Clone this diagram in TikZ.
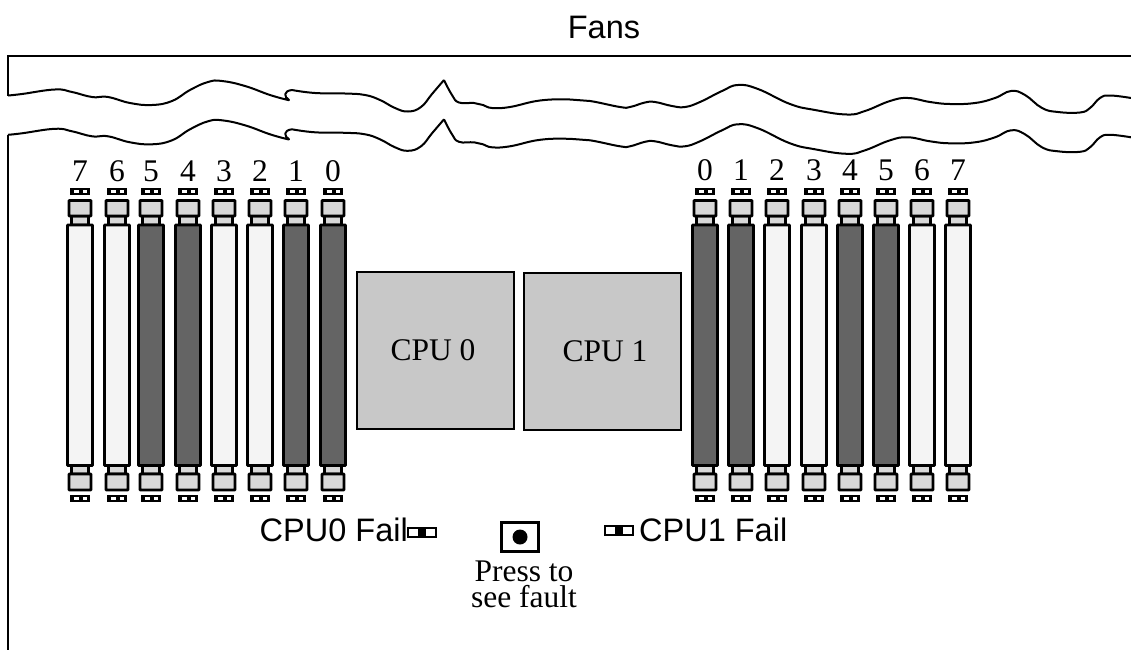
\documentclass[tikz,border=0pt]{standalone}
\usepackage{fontspec}
\setmainfont{Liberation Serif}
\newfontfamily\arialf{Liberation Sans}
\definecolor{dimmdark}{HTML}{646464}
\definecolor{dimmlight}{HTML}{F4F4F4}
\definecolor{blockgray}{HTML}{D8D8D8}
\definecolor{cpugray}{HTML}{C8C8C8}
\newcommand{\serifsz}{\fontsize{31.5}{26}\selectfont}
\newcommand{\sanssz}{\arialf\fontsize{32.5}{32.5}\selectfont}
\newcommand{\wavepath}{%
  plot[smooth,tension=0.75] coordinates {(8,95.5) (22,94) (55,89.5) (72,92) (92,97) (108,97) (130,103) (152,105) (172,101) (190,90) (208,82) (222,81) (245,86) (270,95) (288,100)}
  -- (289,100) .. controls (284,97) and (283,91) .. (292,90)
  plot[smooth,tension=0.75] coordinates {(292,90) (315,93) (345,93.5) (365,95) (380,100) (395,108) (408,111.5) (421,107) (432,94) (444,80)}
  plot[smooth,tension=0.75] coordinates {(444,80) (452,95) (459,102.5) (474,103) (483,105) (492,108) (510,107) (540,100.5) (570,99.5) (590,101) (620,107) (630,107) (645,102.5) (655,102) (672,106) (685,107) (700,102) (722,91) (738,85) (758,89) (790,104) (815,110) (847,114.5) (865,111) (890,101) (908,98) (930,102) (950,104) (975,103) (995,98) (1011,91) (1025,95) (1042,108) (1058,112) (1080,112.5) (1090,108) (1100,98) (1110,95.5) (1131,98)}}
\tikzset{
  outline/.style={draw=black,line width=2.2pt},
  wave/.style={draw=black,line width=2pt,line join=round},
  slotbody/.style={draw=black,line width=2.6pt,rounded corners=0.5pt},
  num/.style={inner sep=0pt,font=\serifsz},
  lbl/.style={inner sep=0pt,font=\sanssz},
  serlbl/.style={inner sep=0pt,font=\serifsz,align=center}
}
\newcommand{\led}[2]{%
  \fill[black] (#1-10,#2-3.8) rectangle (#1+10,#2+3.8);
  \fill[white] (#1-6.5,#2-1.8) rectangle (#1-1.5,#2+1.8);
  \fill[white] (#1+2.5,#2-1.8) rectangle (#1+7,#2+1.8);
}
\newcommand{\dimm}[2]{%
  \led{#1}{191.5}
  \draw[slotbody,fill=blockgray] (#1-8.5,216) rectangle (#1+8.5,225);
  \draw[slotbody,fill=blockgray] (#1-11,200.5) rectangle (#1+11,216);
  \draw[slotbody,fill=#2] (#1-12.5,225) rectangle (#1+12.5,465.5);
  \draw[slotbody,fill=blockgray] (#1-8.5,465.5) rectangle (#1+8.5,474);
  \draw[slotbody,fill=blockgray] (#1-11,474) rectangle (#1+11,490);
  \led{#1}{498.5}
}
\begin{document}
\begin{tikzpicture}[x=1pt,y=-1pt]
\useasboundingbox (0,0) rectangle (1131,664);
% chassis
\draw[outline,line join=miter] (1131,56) -- (8,56) -- (8,95.5);
\draw[outline] (8,135) -- (8,650);
\draw[wave] \wavepath;
\begin{scope}[yshift=-39.3pt]
\draw[wave] \wavepath;
\end{scope}
\node[lbl] (fans) at (604,27) {Fans};
% left bank
\foreach \x/\n/\c in {80/7/dimmlight,117/6/dimmlight,151/5/dimmdark,188/4/dimmdark,224/3/dimmlight,260/2/dimmlight,296/1/dimmdark,333/0/dimmdark}{
  \dimm{\x}{\c}
  \node[num] (l\n) at (\x,171) {\n};
}
% right bank
\foreach \x/\n/\c in {705/0/dimmdark,741/1/dimmdark,777/2/dimmlight,814/3/dimmlight,850/4/dimmdark,886/5/dimmdark,922/6/dimmlight,958/7/dimmlight}{
  \dimm{\x}{\c}
  \node[num] (r\n) at (\x,170) {\n};
}
% CPUs
\node[draw=black,line width=2.2pt,fill=cpugray,minimum width=157pt,minimum height=157pt,inner sep=0pt,font=\serifsz] (cpu0) at (435.5,350.5) {\raisebox{-4pt}{\hspace{-5pt}CPU 0}};
\node[draw=black,line width=2.2pt,fill=cpugray,minimum width=157pt,minimum height=157pt,inner sep=0pt,font=\serifsz] (cpu1) at (602.5,351.5) {\raisebox{1pt}{\hspace{5pt}CPU 1}};
% fail LEDs
\node[lbl,anchor=east] (f0) at (408,530) {CPU0 Fail};
\node[lbl,anchor=west] (f1) at (639,530) {CPU1 Fail};
\draw[line width=2.2pt,fill=white] (408,528) rectangle (436,537);
\fill[black] (418,528) rectangle (426,537);
\draw[line width=2.2pt,fill=white] (605,526) rectangle (633,535);
\fill[black] (615,526) rectangle (623,535);
% button
\node[draw=black,line width=2.2pt,minimum width=37pt,minimum height=29pt,inner sep=0pt] (btn) at (520,537) {};
\fill[black] (btn.center) circle (7.5);
\node[serlbl] (press) at (524,584) {Press to\\see fault};
\end{tikzpicture}
\end{document}
